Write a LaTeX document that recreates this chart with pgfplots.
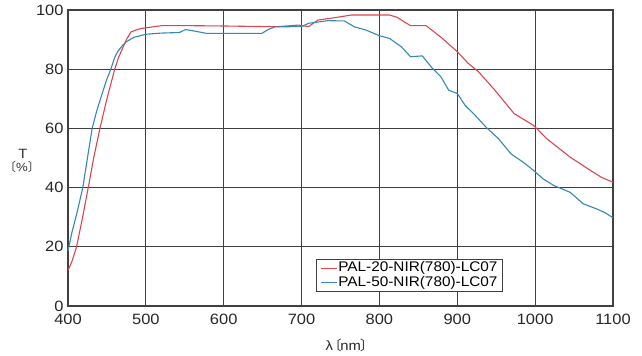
\documentclass[border=0pt]{standalone}
\usepackage{fontspec}
\setmainfont[FakeStretch=1.1]{Liberation Sans}
\newfontfamily\cjk{Noto Sans CJK JP}
\usepackage{pgfplots}
\pgfplotsset{compat=1.18}
\definecolor{cred}{RGB}{222,68,80}
\definecolor{cblue}{RGB}{52,136,180}
\definecolor{cgrid}{RGB}{64,64,64}
\begin{document}
\begin{tikzpicture}
\begin{axis}[
  scale only axis, width=545bp, height=296bp,
  at={(0,0)}, anchor=south west,
  clip=false,
  xmin=400, xmax=1100, ymin=0, ymax=100,
  xtick={400,500,...,1100}, ytick={0,20,...,100},
  /pgf/number format/assume math mode=true,
  /pgf/number format/1000 sep={},
  tick label style={font=\fontsize{15}{17}\selectfont, text=black!85},
  xticklabel style={yshift=-5bp},
  yticklabel style={xshift=-1bp},
  major tick length=0pt,
  grid=major,
  major grid style={cgrid, line width=1.1bp},
  axis line style={cgrid, line width=1.1bp},
  legend style={at={(0.455,0.0473)}, anchor=south west, draw=cgrid, line width=0.9bp,
    fill=white, font=\fontsize{14}{15.5}\selectfont, inner xsep=4bp, inner ysep=1.5bp,
    row sep=0pt, nodes={inner sep=0.8bp, text height=10.2bp, text depth=2.8bp}},
  legend cell align=left,
  legend image code/.code={\draw[#1] (0bp,0bp) -- (16bp,0bp);},
]
\addplot[cred, line width=1.1bp] coordinates {
(400,12) (405,15) (411,20) (418,29) (426,40) (433,50) (441,60) (450,70) (460,80)
(465,84) (470,87) (475,90) (481,92.6) (490,93.5) (500,94.0) (520,94.7) (560,94.7)
(600,94.6) (650,94.4) (670,94.4) (696,94.9) (709,94.4) (721,96.6) (740,97.3)
(764,98.3) (790,98.3) (813,98.3) (823,97.5) (833,95.8) (840,94.7) (860,94.7)
(880,90.6) (900,85.9) (914,82) (927,79.2) (948,73) (973,65) (998,61) (1015,56.5)
(1045,50.3) (1071,45.8) (1085,43.5) (1100,41.8)
};
\addlegendentry{PAL-20-NIR(780)-LC07}
\addplot[cblue, line width=1.1bp] coordinates {
(400,18.6) (405,24.8) (412,32) (419,40) (425,50) (431,60) (437,66) (443,71)
(449,76) (455,80) (460,84) (464,86) (470,88) (475,89.3) (485,90.8) (500,91.8)
(520,92.2) (543,92.4) (551,93.4) (560,93.0) (578,92.1) (600,92.1) (649,92.1)
(658,93.5) (666,94.3) (700,94.4) (709,95.5) (734,96.4) (755,96.3) (768,94.3)
(783,93.2) (800,91.3) (813,90.4) (828,87.6) (840,84.2) (855,84.5) (868,80.3)
(879,77.4) (889,72.9) (900,71.8) (910,67.8) (923,64.4) (937,60.4) (953,56.5)
(969,51.4) (985,48.5) (998,45.8) (1010,43) (1024,40.7) (1045,38.4) (1062,34.5)
(1079,32.8) (1090,31.5) (1100,29.8)
};
\addlegendentry{PAL-50-NIR(780)-LC07}
\node[font=\fontsize{13.5}{13}\selectfont, text=black!80, xshift=-45bp, yshift=7.5bp, inner sep=0pt]
  at (rel axis cs:0,0.487) {T};
\node[font=\fontsize{12}{12}\selectfont, text=black!80, xshift=-46bp, yshift=-5.5bp, inner sep=0pt]
  at (rel axis cs:0,0.487) {{\cjk 〔}\%{\cjk 〕}};
\node[font=\fontsize{13.5}{14}\selectfont, text=black!85, yshift=-39bp, inner sep=0pt]
  at (rel axis cs:0.512,0) {λ\kern-5bp{\cjk 〔}\kern-1bp nm\kern-1bp{\cjk 〕}\kern-5bp};
\end{axis}
\path (-68bp,-50bp) rectangle (574bp,306bp);
\end{tikzpicture}
\end{document}
